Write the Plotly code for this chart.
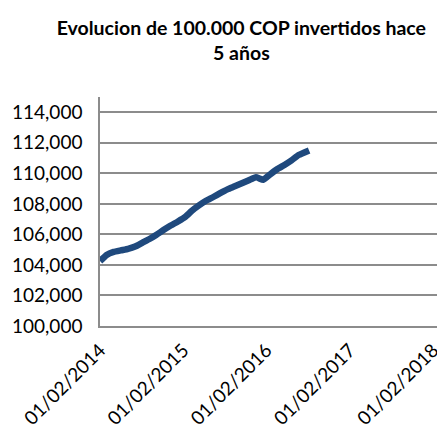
import plotly.graph_objects as go

dates = ["2014-02-01", "2014-03-02", "2014-04-02", "2014-05-03", "2014-06-04", "2014-07-05",
         "2014-08-05", "2014-09-06", "2014-10-07", "2014-11-08", "2014-12-08", "2015-01-09",
         "2015-02-10", "2015-03-11", "2015-04-11", "2015-05-12", "2015-06-13", "2015-07-13",
         "2015-08-14", "2015-09-15", "2015-10-16", "2015-11-16", "2015-12-17", "2016-01-18",
         "2016-02-19", "2016-03-20", "2016-04-20", "2016-05-21", "2016-06-21", "2016-08-06"]
values = [104250, 104650, 104850, 104950, 105050, 105200,
          105450, 105700, 105980, 106300, 106580, 106850,
          107150, 107550, 107900, 108200, 108450, 108700,
          108950, 109150, 109350, 109550, 109750, 109580,
          109950, 110280, 110550, 110850, 111200, 111500]

x_tickvals = ["2014-02-01", "2015-02-01", "2016-02-01", "2017-02-01", "2018-02-01"]
x_ticktext = ["01/02/2014", "01/02/2015", "01/02/2016", "01/02/2017", "01/02/2018"]
y_tickvals = [100000, 102000, 104000, 106000, 108000, 110000, 112000, 114000]
y_ticktext = ["100,000", "102,000", "104,000", "106,000", "108,000", "110,000", "112,000", "114,000"]

FONT = "Lato, 'Open Sans', sans-serif"

fig = go.Figure(go.Scatter(
    x=dates, y=values, mode="lines",
    line=dict(color="#1F497D", width=6.5, shape="spline", smoothing=0.4),
    showlegend=False, hoverinfo="skip",
))

fig.update_layout(
    width=437, height=417,
    margin=dict(l=92, r=3, t=89, b=99),
    paper_bgcolor="white", plot_bgcolor="white",
    font=dict(family=FONT, color="#000000"),
    title=dict(
        text="<b>Evolucion de 100.000 COP invertidos hace<br>5 años</b>",
        x=0.534, xanchor="center", y=0.936, yanchor="top",
        font=dict(size=19.5, family=FONT, color="#000000"),
    ),
    xaxis=dict(
        type="date", range=["2014-02-01", "2018-03-12"],
        tickvals=x_tickvals, ticktext=x_ticktext, tickangle=-45,
        tickfont=dict(size=19, family=FONT, color="#000000"),
        ticklabeloverflow="allow",
        showgrid=False, showline=True, linecolor="#8c8c8c", linewidth=1.5,
        ticks="outside", ticklen=4, tickcolor="rgba(0,0,0,0)",
        zeroline=False, automargin=False,
    ),
    yaxis=dict(
        range=[100000, 115000],
        tickvals=y_tickvals, ticktext=y_ticktext,
        tickfont=dict(size=19, family=FONT, color="#000000"),
        showgrid=True, gridcolor="#8c8c8c", gridwidth=1.5,
        showline=True, linecolor="#8c8c8c", linewidth=1.5,
        ticks="", zeroline=False, ticklabelstandoff=12, automargin=False,
    ),
)

fig.write_html("out.html")
